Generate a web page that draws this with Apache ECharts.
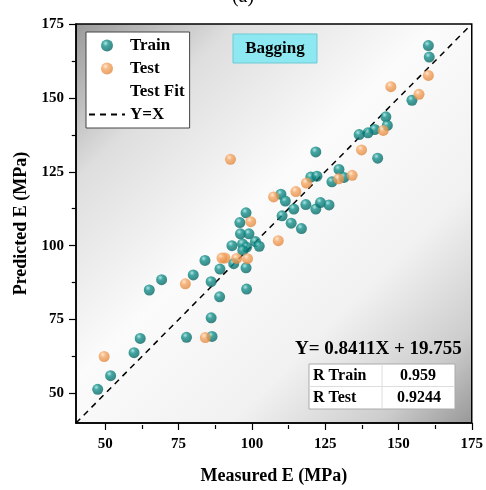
<!DOCTYPE html>
<html lang="en">
<head>
  <meta charset="UTF-8">
  <title>Bagging</title>
  <script src="https://cdn.jsdelivr.net/npm/echarts@6/dist/echarts.min.js"></script>
  <style>
    html, body { margin: 0; padding: 0; background: #fff; }
  </style>
</head>
<body>
  <div id="app" style="width: 486px; height: 490px;"></div>
  <script>
    // values
    var trainMeasured = [160.2, 160.5, 154.6, 145.7, 146.2, 141.9, 139.6, 136.6, 121.8, 142.9,
      129.7, 131.4, 127.3, 120.1, 122.2, 109.9, 111.4, 114.3, 118.4, 121.8,
      123.4, 126.3, 110.3, 113.4, 116.9, 98.0, 95.9, 96.1, 99.0, 101.2,
      102.5, 96.8, 98.2, 96.9, 93.2, 84.0, 93.8, 98.0, 89.1, 80.0,
      86.1, 69.2, 65.0, 98.2, 89.0, 86.1, 77.7, 86.4, 61.9, 59.8,
      51.8, 47.4]
    var trainPredicted = [167.7, 163.8, 149.2, 143.6, 140.7, 139.3, 138.2, 137.6, 131.7, 129.6,
      125.8, 123.1, 121.6, 123.2, 123.5, 117.4, 115.1, 112.4, 113.9, 112.4,
      114.6, 113.8, 110.1, 107.6, 105.8, 111.1, 107.8, 104.0, 104.0, 101.4,
      99.8, 100.6, 99.5, 98.4, 100.0, 95.0, 93.9, 92.5, 92.1, 90.1,
      87.8, 88.5, 85.0, 85.3, 82.7, 75.6, 69.0, 69.3, 68.6, 63.8,
      56.0, 51.4]
    var testMeasured = [160.2, 147.4, 157.0, 144.8, 137.4, 92.7, 129.6, 134.2, 118.6, 115.0,
      107.4, 109.0, 99.6, 90.8, 89.8, 94.8, 98.5, 77.3, 84.1, 49.6]
    var testPredicted = [157.6, 153.8, 151.2, 139.0, 132.4, 129.2, 122.6, 123.8, 121.2, 118.3,
      116.5, 101.7, 108.1, 95.8, 95.8, 95.7, 95.6, 87.1, 68.9, 62.5]
    var identityLine = [40, 175]
    var majorTicks = [50, 75, 100, 125, 150, 175]
    var minorTicks = [62.5, 87.5, 112.5, 137.5, 162.5]

    var serif = "'Liberation Serif', 'Times New Roman', serif"

    var trainData = trainMeasured.map(function (v, i) { return [v, trainPredicted[i]] })
    var testData = testMeasured.map(function (v, i) { return [v, testPredicted[i]] })
    var lineData = identityLine.map(function (v) { return [v, v] })

    function ball(light, mid, dark) {
      return new echarts.graphic.RadialGradient(0.38, 0.32, 0.7, [
        { offset: 0, color: light },
        { offset: 0.35, color: mid },
        { offset: 1, color: dark }
      ])
    }

    var mCharts = echarts.init(document.querySelector('#app'))

    var axisBase = {
      min: 40,
      max: 175,
      splitLine: { show: false }
    }

    var option = {
      animation: false,
      grid: {
        left: 76, top: 24, right: 14, bottom: 65,
        show: true,
        borderColor: '#000',
        borderWidth: 1.5,
        backgroundColor: new echarts.graphic.LinearGradient(0, 0, 1, 1, [
          { offset: 0, color: '#999' },
          { offset: 0.2, color: '#dedede' },
          { offset: 0.45, color: '#fbfbfb' },
          { offset: 0.7, color: '#f1f1f1' },
          { offset: 0.88, color: '#cdcdcd' },
          { offset: 1, color: '#979797' }
        ])
      },
      xAxis: [
        Object.assign({}, axisBase, {
          type: 'value',
          position: 'bottom',
          name: 'Measured E (MPa)',
          nameLocation: 'middle',
          nameGap: 44,
          nameTextStyle: { fontFamily: serif, fontWeight: 'bold', fontSize: 18, color: '#000' },
          axisLine: { show: true, lineStyle: { color: '#000', width: 1.5 } },
          axisTick: { show: true, length: 7, customValues: majorTicks, lineStyle: { color: '#000', width: 1.2 } },
          axisLabel: { customValues: majorTicks, margin: 14, fontFamily: serif, fontWeight: 'bold', fontSize: 15, color: '#000' }
        }),
        Object.assign({}, axisBase, {
          type: 'value',
          position: 'top',
          offset: -401,
          axisLine: { show: false },
          axisTick: { show: true, inside: true, length: 4, customValues: minorTicks, lineStyle: { color: '#000', width: 1.2 } },
          axisLabel: { show: false }
        })
      ],
      yAxis: [
        Object.assign({}, axisBase, {
          type: 'value',
          position: 'left',
          name: 'Predicted E (MPa)',
          nameLocation: 'middle',
          nameGap: 46,
          nameTextStyle: { fontFamily: serif, fontWeight: 'bold', fontSize: 18, color: '#000' },
          axisLine: { show: true, lineStyle: { color: '#000', width: 1.5 } },
          axisTick: { show: true, length: 7, customValues: majorTicks, lineStyle: { color: '#000', width: 1.2 } },
          axisLabel: { customValues: majorTicks, margin: 12, fontFamily: serif, fontWeight: 'bold', fontSize: 15, color: '#000' }
        }),
        Object.assign({}, axisBase, {
          type: 'value',
          position: 'right',
          offset: -396,
          axisLine: { show: false },
          axisTick: { show: true, inside: true, length: 4, customValues: minorTicks, lineStyle: { color: '#000', width: 1.2 } },
          axisLabel: { show: false }
        })
      ],
      legend: {
        orient: 'vertical',
        left: 86,
        top: 32,
        padding: [5, 5, 5, 2],
        itemWidth: 36,
        itemHeight: 12,
        itemGap: 6,
        backgroundColor: '#fff',
        borderColor: '#444',
        borderWidth: 1,
        borderRadius: 0,
        textStyle: { fontFamily: serif, fontWeight: 'bold', fontSize: 17, lineHeight: 17, color: '#000' },
        data: [
          'Train',
          'Test',
          { name: 'Test Fit', itemStyle: { opacity: 0 }, lineStyle: { opacity: 0 } },
          { name: 'Y=X', itemStyle: { opacity: 0 } }
        ]
      },
      graphic: [
        { type: 'text', left: 'center', top: -13, style: { text: '(a)', font: '20px ' + serif, fill: '#000' } },
        { type: 'rect', shape: { x: 233, y: 34, width: 84, height: 29 }, style: { fill: '#8ee8f1', stroke: '#6cc9d3', lineWidth: 1 } },
        { type: 'text', x: 275, y: 49, style: { text: 'Bagging', font: 'bold 17px ' + serif, fill: '#000', align: 'center', verticalAlign: 'middle' } },
        { type: 'text', x: 295, y: 349, style: { text: 'Y= 0.8411X + 19.755', font: 'bold 19px ' + serif, fill: '#000', align: 'left', verticalAlign: 'middle' } },
        { type: 'rect', shape: { x: 309, y: 364, width: 146, height: 45 }, style: { fill: '#fff', stroke: '#aaa', lineWidth: 1 } },
        { type: 'line', shape: { x1: 309, y1: 386.5, x2: 455, y2: 386.5 }, style: { stroke: '#ddd', lineWidth: 1 } },
        { type: 'line', shape: { x1: 382, y1: 364, x2: 382, y2: 409 }, style: { stroke: '#ddd', lineWidth: 1 } },
        { type: 'text', x: 313, y: 375.5, style: { text: 'R Train', font: 'bold 16px ' + serif, fill: '#000', verticalAlign: 'middle' } },
        { type: 'text', x: 418, y: 375.5, style: { text: '0.959', font: 'bold 16px ' + serif, fill: '#000', align: 'center', verticalAlign: 'middle' } },
        { type: 'text', x: 313, y: 398, style: { text: 'R Test', font: 'bold 16px ' + serif, fill: '#000', verticalAlign: 'middle' } },
        { type: 'text', x: 419, y: 398, style: { text: '0.9244', font: 'bold 16px ' + serif, fill: '#000', align: 'center', verticalAlign: 'middle' } }
      ],
      series: [
        {
          name: 'Y=X',
          type: 'line',
          data: lineData,
          symbol: 'none',
          itemStyle: { color: '#000' },
          lineStyle: { color: '#000', width: 1.5, type: [6, 5] },
          z: 1
        },
        {
          name: 'Train',
          type: 'scatter',
          data: trainData,
          symbol: 'circle',
          symbolSize: 11,
          itemStyle: { color: ball('#9fe0dc', '#14918c', '#0a6663') },
          z: 3
        },
        {
          name: 'Test',
          type: 'scatter',
          data: testData,
          symbol: 'circle',
          symbolSize: 11,
          itemStyle: { color: ball('#ffe4c8', '#f6a866', '#e0883e') },
          z: 4
        },
        {
          name: 'Test Fit',
          type: 'line',
          data: [],
          symbol: 'none',
          itemStyle: { opacity: 0 },
          lineStyle: { opacity: 0 }
        }
      ]
    }
    mCharts.setOption(option)
  </script>
</body>
</html>
